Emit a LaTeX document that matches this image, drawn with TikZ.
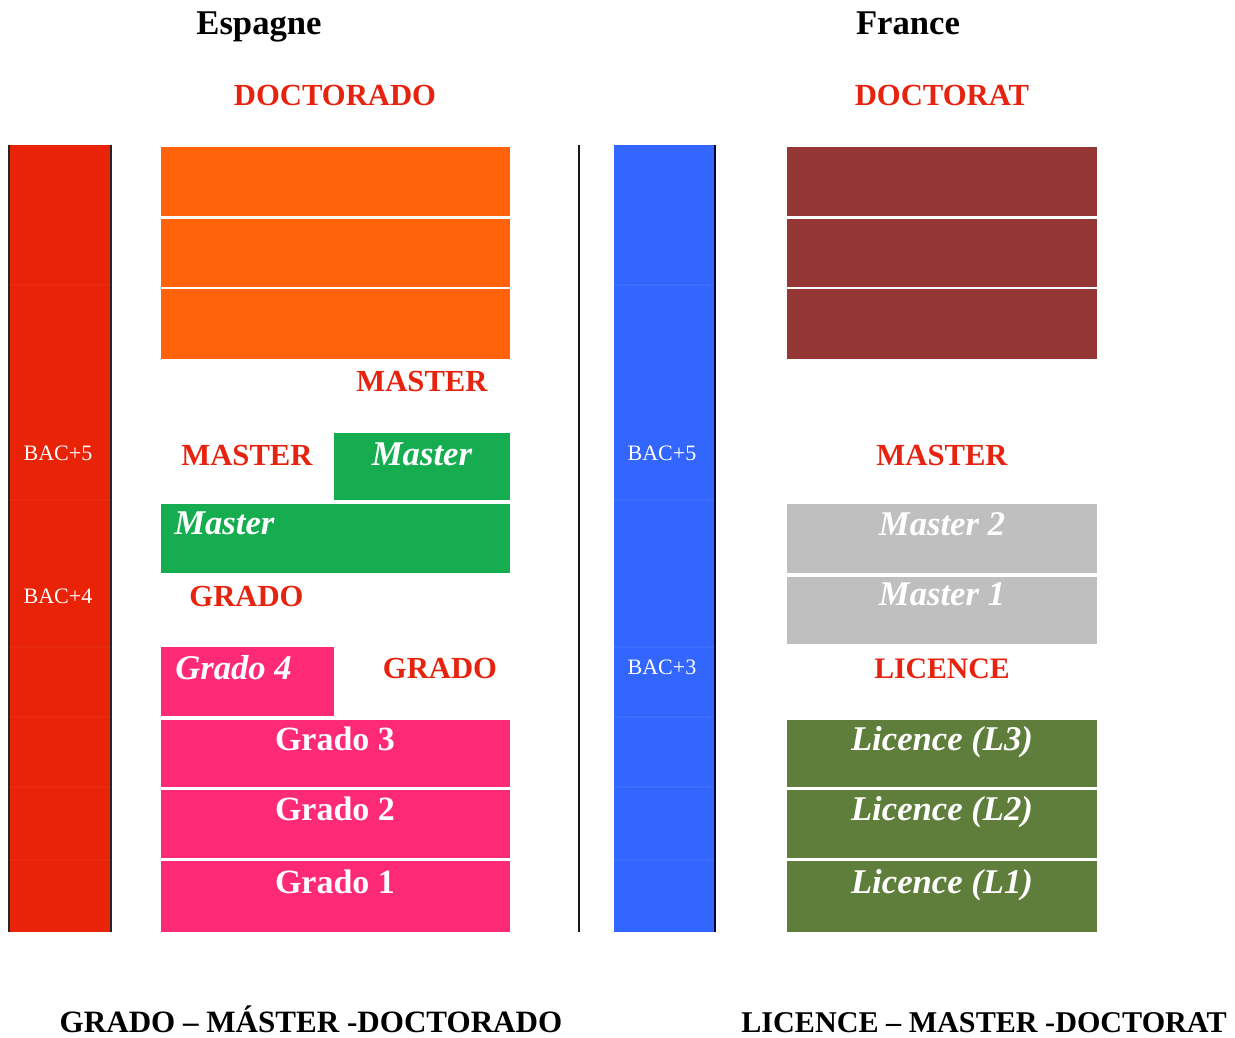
\documentclass[tikz,border=0pt]{standalone}
\usepackage{fontspec}
\setmainfont{Liberation Serif}
\definecolor{barred}{RGB}{232,35,8}
\definecolor{txtred}{RGB}{230,35,15}
\definecolor{orangeb}{RGB}{255,99,9}
\definecolor{greenb}{RGB}{22,173,80}
\definecolor{pinkb}{RGB}{255,42,117}
\definecolor{darkredb}{RGB}{148,54,52}
\definecolor{grayb}{RGB}{191,191,191}
\definecolor{oliveb}{RGB}{96,126,59}
\definecolor{blueb}{RGB}{51,102,255}
\tikzset{
  redlab/.style={text=txtred,font=\fontsize{23}{26}\selectfont\bfseries,anchor=base,inner sep=0pt},
  title/.style={text=black,font=\fontsize{26}{30}\selectfont\bfseries,anchor=base,inner sep=0pt},
  foot/.style={text=black,font=\fontsize{23.3}{26}\selectfont\bfseries,anchor=base,inner sep=0pt},
  boxtxt/.style={text=white,font=\fontsize{25.5}{30}\selectfont\bfseries,anchor=base,inner sep=0pt},
  boxit/.style={text=white,font=\fontsize{26}{30}\selectfont\bfseries\itshape,anchor=base,inner sep=0pt},
  baclab/.style={text=white,font=\fontsize{16.5}{20}\selectfont,anchor=base,inner sep=0pt},
  cellline/.style={line width=0.8pt}
}
\begin{document}
\begin{tikzpicture}[x=0.75pt,y=-0.75pt]
\useasboundingbox (0,0) rectangle (1235,1038);
\fill[white] (0,0) rectangle (1235,1038);
% left red bar
\fill[barred] (8,145) rectangle (112,932);
\foreach \yy in {285,500,647,717,787,860} \draw[cellline,barred!97!white] (10,\yy) -- (110,\yy);
\draw[line width=1.8pt,black!85] (9,145) -- (9,932);
\draw[line width=1.8pt,black!85] (111,145) -- (111,932);
% divider
\draw[line width=1.8pt,black!90] (579,145) -- (579,932);
% blue bar
\fill[blueb] (614,145) rectangle (716,932);
\foreach \yy in {285,500,647,717,787,860} \draw[cellline,blueb!95!white] (614,\yy) -- (714,\yy);
\draw[line width=1.8pt,black!80!blue] (715,145) -- (715,932);
% Spain doctorate boxes
\fill[orangeb] (161,147) rectangle (510,216);
\fill[orangeb] (161,218.5) rectangle (510,286.5);
\fill[orangeb] (161,289) rectangle (510,359);
% France doctorate boxes
\fill[darkredb] (787,147) rectangle (1097,216);
\fill[darkredb] (787,218.5) rectangle (1097,286.5);
\fill[darkredb] (787,289) rectangle (1097,359);
% Spain master
\fill[greenb] (334,433) rectangle (510,500);
\fill[greenb] (161,504) rectangle (510,573);
% Spain grado
\fill[pinkb] (161,647) rectangle (334,716);
\fill[pinkb] (161,720) rectangle (510,787);
\fill[pinkb] (161,790) rectangle (510,858);
\fill[pinkb] (161,861) rectangle (510,932);
% France master
\fill[grayb] (787,504) rectangle (1097,573);
\fill[grayb] (787,577) rectangle (1097,644);
% France licence
\fill[oliveb] (787,720) rectangle (1097,787);
\fill[oliveb] (787,790) rectangle (1097,858);
\fill[oliveb] (787,861) rectangle (1097,932);
% texts
\node[title] (esp) at (259,35) {Espagne};
\node[title] (fra) at (908,35) {France};
\node[redlab] (doces) at (335,106) {DOCTORADO};
\node[redlab] (docfr) at (942,106) {DOCTORAT};
\node[redlab] (mas1) at (422,391) {MASTER};
\node[redlab] (mas2) at (247,465) {MASTER};
\node[boxit] (gm1) at (422,465) {Master};
\node[boxit,anchor=base west] (gm2) at (174,534) {Master};
\node[redlab] (gra1) at (246.5,606) {GRADO};
\node[boxit,anchor=base west] (g4) at (175,679) {Grado 4};
\node[redlab] (gra2) at (440,678) {GRADO};
\node[boxtxt] (g3) at (335,750) {Grado 3};
\node[boxtxt] (g2) at (335,820) {Grado 2};
\node[boxtxt] (g1) at (335,893) {Grado 1};
\node[redlab] (masfr) at (942,465) {MASTER};
\node[boxit] (m2) at (942,535) {Master 2};
\node[boxit] (m1) at (942,605) {Master 1};
\node[redlab,font=\fontsize{22.3}{26}\selectfont\bfseries] (lic) at (942,678) {LICENCE};
\node[boxit] (l3) at (942,750) {Licence (L3)};
\node[boxit] (l2) at (942,820) {Licence (L2)};
\node[boxit] (l1) at (942,893) {Licence (L1)};
\node[baclab] (b5a) at (58,460) {BAC+5};
\node[baclab] (b4a) at (58,603) {BAC+4};
\node[baclab] (b5b) at (662,460) {BAC+5};
\node[baclab] (b3b) at (662,674) {BAC+3};
\node[foot] (footes) at (311,1032) {GRADO – MÁSTER -DOCTORADO};
\node[foot,font=\fontsize{22.6}{26}\selectfont\bfseries] (footfr) at (984,1032) {LICENCE – MASTER -DOCTORAT};
\end{tikzpicture}
\end{document}
